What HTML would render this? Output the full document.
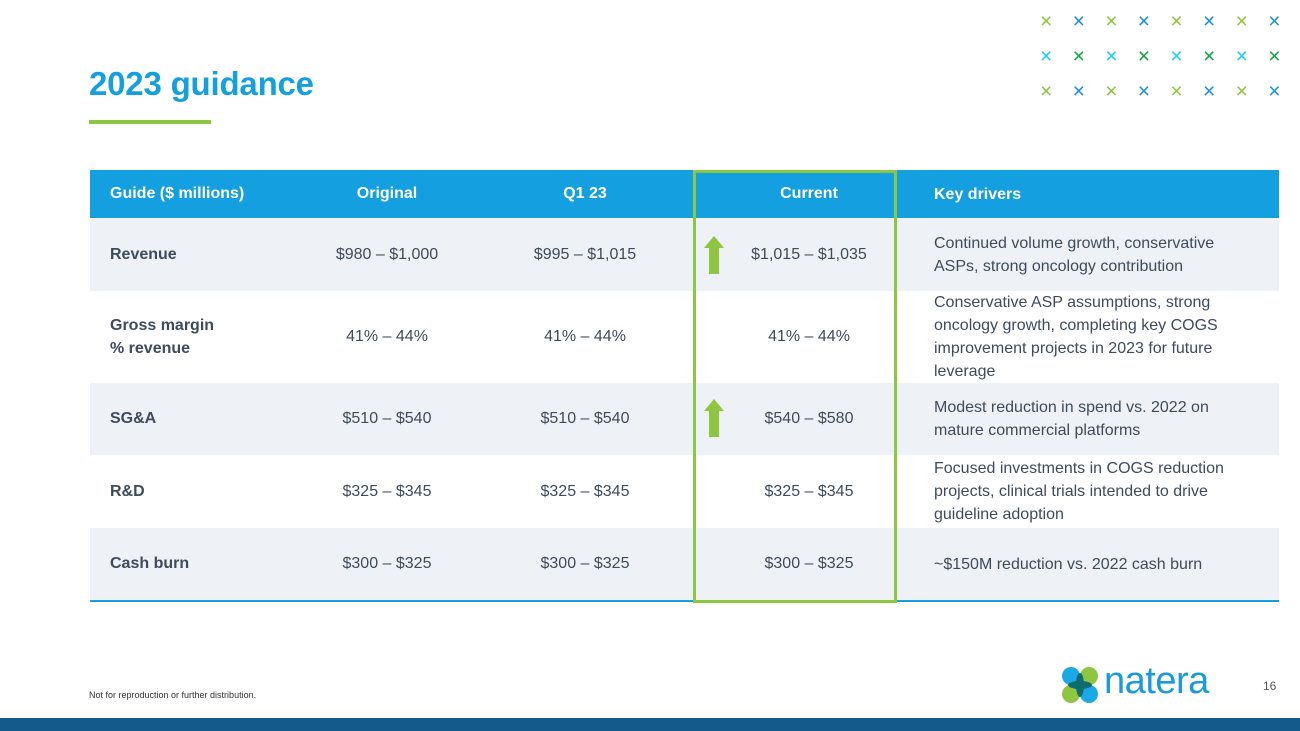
<!DOCTYPE html>
<html><head><meta charset="utf-8"><style>
*{margin:0;padding:0;box-sizing:border-box}
body{width:1300px;height:731px;position:relative;background:#fff;font-family:"Liberation Sans",sans-serif;overflow:hidden;color:#3d4b5c}
.abs{position:absolute}
.title{left:89px;top:65px;font-size:33px;font-weight:bold;color:#149fdf;letter-spacing:-0.2px}
.uline{left:89px;top:120px;width:122px;height:4px;background:#8dc63f}
.row{position:absolute;left:90px;width:1189px}
.cell{position:absolute;top:0;height:100%;display:flex;align-items:center;font-size:16px}
.c0{left:20px;font-weight:bold}
.c1{left:197px;width:200px;justify-content:center}
.c2{left:395px;width:200px;justify-content:center}
.c3{left:619px;width:200px;justify-content:center}
.c4{left:844px;width:315px;line-height:23px}
.hdr .cell{color:#fff;font-weight:bold}
.x{position:absolute;font-size:21px;line-height:1}
.arrow{position:absolute;left:614px;width:20px;height:38px}
</style></head><body>
<div class="abs title">2023 guidance</div>
<div class="abs uline"></div>
<div id="xs"></div>

<div>
<div class="row hdr" style="top:170px;height:48px;background:#139fe0">
<div class="cell c0">Guide ($ millions)</div><div class="cell c1">Original</div><div class="cell c2">Q1 23</div><div class="cell c3">Current</div><div class="cell c4">Key drivers</div></div>
<div class="row" style="top:218px;height:73px;background:#eef2f6">
<div class="cell c0">Revenue</div><div class="cell c1">$980 – $1,000</div><div class="cell c2">$995 – $1,015</div><div class="cell c3">$1,015 – $1,035</div><div class="cell c4">Continued volume growth, conservative ASPs, strong oncology contribution</div>
<svg class="arrow" style="top:18px" viewBox="0 0 20 38"><polygon points="10,0 20,12 15,12 15,38 5,38 5,12 0,12" fill="#8dc63f"/></svg></div>
<div class="row" style="top:291px;height:92px;background:#fff">
<div class="cell c0" style="line-height:23px">Gross margin<br>% revenue</div><div class="cell c1">41% – 44%</div><div class="cell c2">41% – 44%</div><div class="cell c3">41% – 44%</div><div class="cell c4">Conservative ASP assumptions, strong oncology growth, completing key COGS improvement projects in 2023 for future leverage</div></div>
<div class="row" style="top:383px;height:72px;background:#eef2f6">
<div class="cell c0">SG&amp;A</div><div class="cell c1">$510 – $540</div><div class="cell c2">$510 – $540</div><div class="cell c3">$540 – $580</div><div class="cell c4">Modest reduction in spend vs. 2022 on mature commercial platforms</div>
<svg class="arrow" style="top:16px" viewBox="0 0 20 38"><polygon points="10,0 20,12 15,12 15,38 5,38 5,12 0,12" fill="#8dc63f"/></svg></div>
<div class="row" style="top:455px;height:73px;background:#fff">
<div class="cell c0">R&amp;D</div><div class="cell c1">$325 – $345</div><div class="cell c2">$325 – $345</div><div class="cell c3">$325 – $345</div><div class="cell c4">Focused investments in COGS reduction projects, clinical trials intended to drive guideline adoption</div></div>
<div class="row" style="top:528px;height:72px;background:#eef2f6">
<div class="cell c0">Cash burn</div><div class="cell c1">$300 – $325</div><div class="cell c2">$300 – $325</div><div class="cell c3">$300 – $325</div><div class="cell c4">~$150M reduction vs. 2022 cash burn</div></div>
<div class="abs" style="left:90px;top:600px;width:1189px;height:2px;background:#139fe0"></div>
<div class="abs" style="left:693px;top:170px;width:204px;height:433px;border:3px solid #8dc63f"></div>
</div>

<div class="abs" style="left:89px;top:690px;font-size:9px;color:#333">Not for reproduction or further distribution.</div>
<svg class="abs" style="left:1061px;top:666px" width="38" height="38" viewBox="0 0 38 38">
<circle cx="10" cy="10" r="9" fill="#1aa9e6"/><circle cx="28" cy="10" r="9" fill="#8dc63f"/><circle cx="10" cy="28" r="9" fill="#8dc63f"/><circle cx="28" cy="28" r="9" fill="#1aa9e6"/>
<ellipse cx="19" cy="19" rx="4" ry="12" fill="#0e6b6e"/><ellipse cx="19" cy="19" rx="12" ry="4" fill="#0e6b6e"/></svg>
<div class="abs" style="left:1104px;top:660px;font-size:38px;color:#1a9ad8;letter-spacing:-0.5px">natera</div>
<div class="abs" style="left:1263px;top:679px;font-size:12px;color:#555">16</div>
<div class="abs" style="left:0;top:718px;width:1300px;height:13px;background:#145b8c"></div>
<script>
var c=document.getElementById('xs');
var cols=['#8dc63f','#1a90d8'],cols2=['#1ccbf0','#0fa34a'];
for(var r=0;r<3;r++)for(var i=0;i<8;i++){
var d=document.createElement('div');
d.className='x';


d.textContent='×';
d.style.left=(1040+i*32.6)+'px';d.style.top=(11+r*35)+'px';
d.style.color=r==1?cols2[i%2]:cols[i%2];
c.appendChild(d);}
</script>
</body></html>
